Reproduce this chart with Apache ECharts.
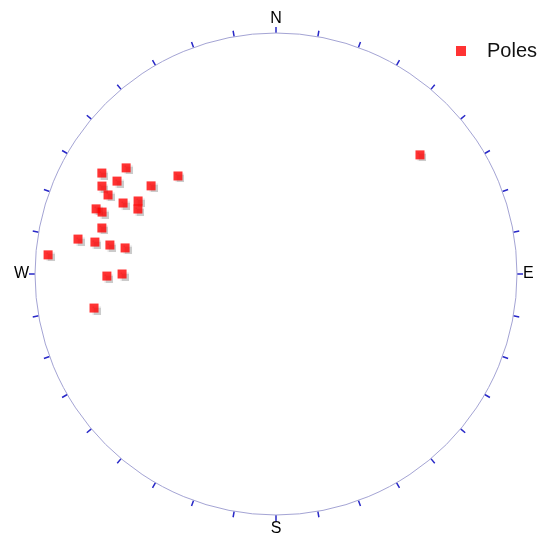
<!DOCTYPE html>
<html><head><meta charset="utf-8">
<script src="https://cdn.jsdelivr.net/npm/echarts@6/dist/echarts.min.js"></script>
<style>html,body{margin:0;padding:0;background:#fff}#c{width:542px;height:538px}</style>
</head><body><div id="c"></div>
<script>
// Pole orientations (trend = azimuth in degrees clockwise from N, plunge in degrees)
const poleTrend  = [305.3, 300.1, 315.0, 300.3, 296.8, 305.2, 295.2, 297.9, 294.9, 289.9, 289.6,
                    295.2, 284.8, 280.0, 280.0, 279.9, 279.8, 274.8, 269.3, 270.0, 259.4, 50.4];
const polePlunge = [24.8, 17.6, 42.0, 24.6, 20.2, 36.7, 24.0, 35.5, 30.7, 21.7, 24.4,
                    36.8, 26.2, 17.7, 24.7, 30.7, 36.6, 5.7, 30.5, 36.3, 24.2, 23.5];
const labelAngles = [0, 90, 180, 270];
const labelTexts  = ['N', 'E', 'S', 'W'];
const seriesName = 'Poles';

// equal-area (Schmidt) lower hemisphere projection radius, 0..1
function projR(plunge) {
  const t = (90 - plunge) / 2 * Math.PI / 180;
  return Math.SQRT2 * Math.sin(t);
}
const data = poleTrend.map((t, i) => [projR(polePlunge[i]), t]);

const chart = echarts.init(document.getElementById('c'), null, {renderer: 'canvas'});
chart.setOption({
  animation: false,
  backgroundColor: '#fff',
  polar: { center: [276, 274], radius: 241 },
  angleAxis: {
    type: 'value', min: 0, max: 360, interval: 10, startAngle: 90, clockwise: true,
    axisLine: { show: true, lineStyle: { color: '#a4a4d4', width: 1 } },
    axisTick: { show: true, inside: false, length: 6, lineStyle: { color: '#2828c8', width: 1.5 } },
    splitLine: { show: false },
    axisLabel: {
      show: true, interval: 0, margin: 6, color: '#000',
      fontFamily: 'Liberation Sans, Arial, sans-serif', fontSize: 16,
      formatter: function (v) { const k = labelAngles.indexOf(v); return k >= 0 ? labelTexts[k] : ''; }
    }
  },
  radiusAxis: { type: 'value', min: 0, max: 1, show: false, axisLine: {show:false}, splitLine: {show:false}, axisLabel:{show:false}, axisTick:{show:false} },
  legend: {
    left: 456, top: 41, padding: 0, itemWidth: 10, itemHeight: 10,
    icon: 'rect',
    textStyle: { fontFamily: 'Liberation Sans, Arial, sans-serif', fontSize: 20, color: '#111', padding: [0, 0, 0, 16], lineHeight: 20 },
    data: [seriesName]
  },
  series: [{
    name: seriesName, type: 'scatter', coordinateSystem: 'polar',
    symbol: 'rect', symbolSize: 9,
    itemStyle: { color: '#ff0000', shadowColor: 'rgba(110,110,110,0.45)', shadowBlur: 1, shadowOffsetX: 2, shadowOffsetY: 2 },
    data: data
  }]
});
</script></body></html>
